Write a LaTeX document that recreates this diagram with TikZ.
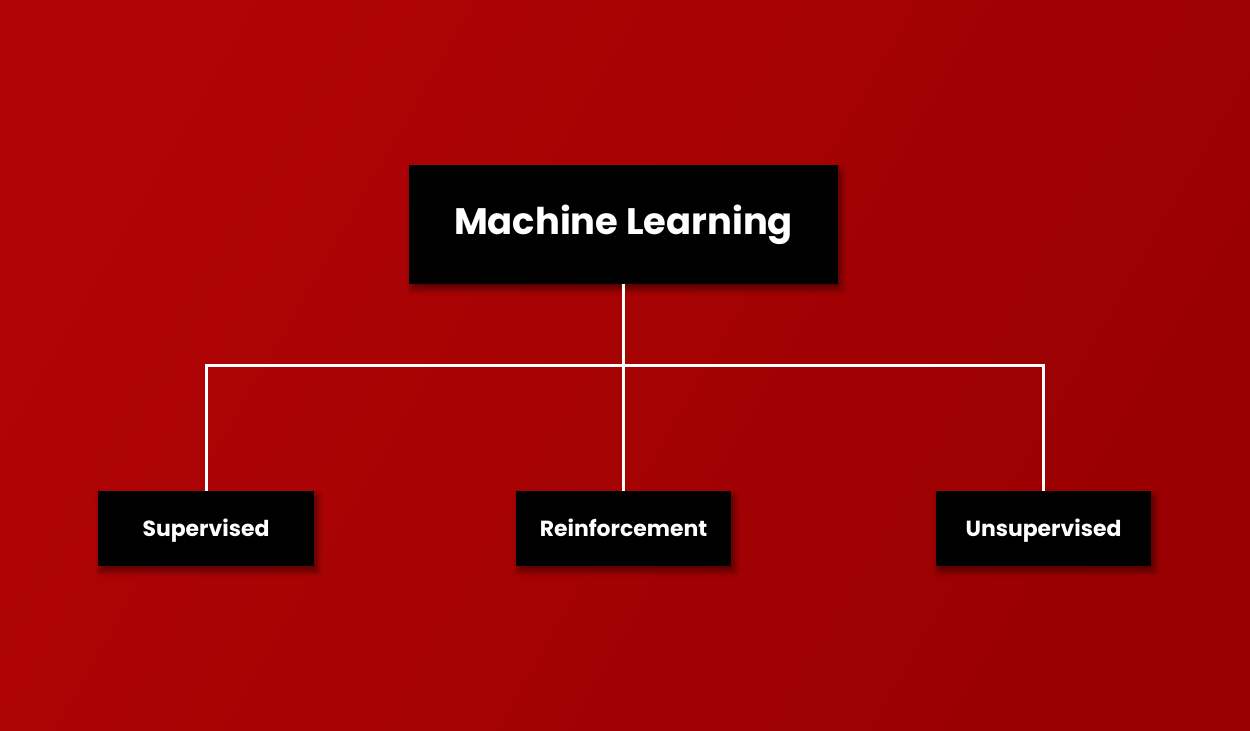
\documentclass[tikz,border=0pt]{standalone}
\usepackage{fontspec}
\setmainfont{Poppins}
\usetikzlibrary{shadows.blur}
\definecolor{bgA}{HTML}{B00406}
\definecolor{bgB}{HTML}{9A0001}
\tikzset{
  box/.style={fill=black,text=white,inner sep=0pt,blur shadow={shadow xshift=3bp,shadow yshift=-5bp,shadow blur radius=6bp,shadow blur steps=10,shadow opacity=50}},
  small/.style={box,minimum height=75bp,font=\fontsize{22}{26}\selectfont\bfseries,text height=16bp,text depth=0bp},
  link/.style={white,line width=3bp}
}
\begin{document}
\begin{tikzpicture}[x=1bp,y=-1bp]
\shade[left color=bgA,right color=bgB,shading angle=60] (0,0) rectangle (1250,731);
\useasboundingbox (0,0) rectangle (1250,731);
\node[box,minimum width=429bp,minimum height=119bp,font=\fontsize{37}{42}\selectfont\bfseries] (ml) at (623.5,224.5) {Machine Learning};
\node[small,minimum width=216bp] (sup) at (206,528.5) {Supervised};
\node[small,minimum width=215bp] (rei) at (623.5,528.5) {Reinforcement};
\node[small,minimum width=215bp] (uns) at (1043.5,528.5) {Unsupervised};
\coordinate (j) at (623.5,365);
\draw[link] (ml.south) -- (rei.north);
\draw[link] (sup.north) |- (j) -| (uns.north);
\end{tikzpicture}
\end{document}
